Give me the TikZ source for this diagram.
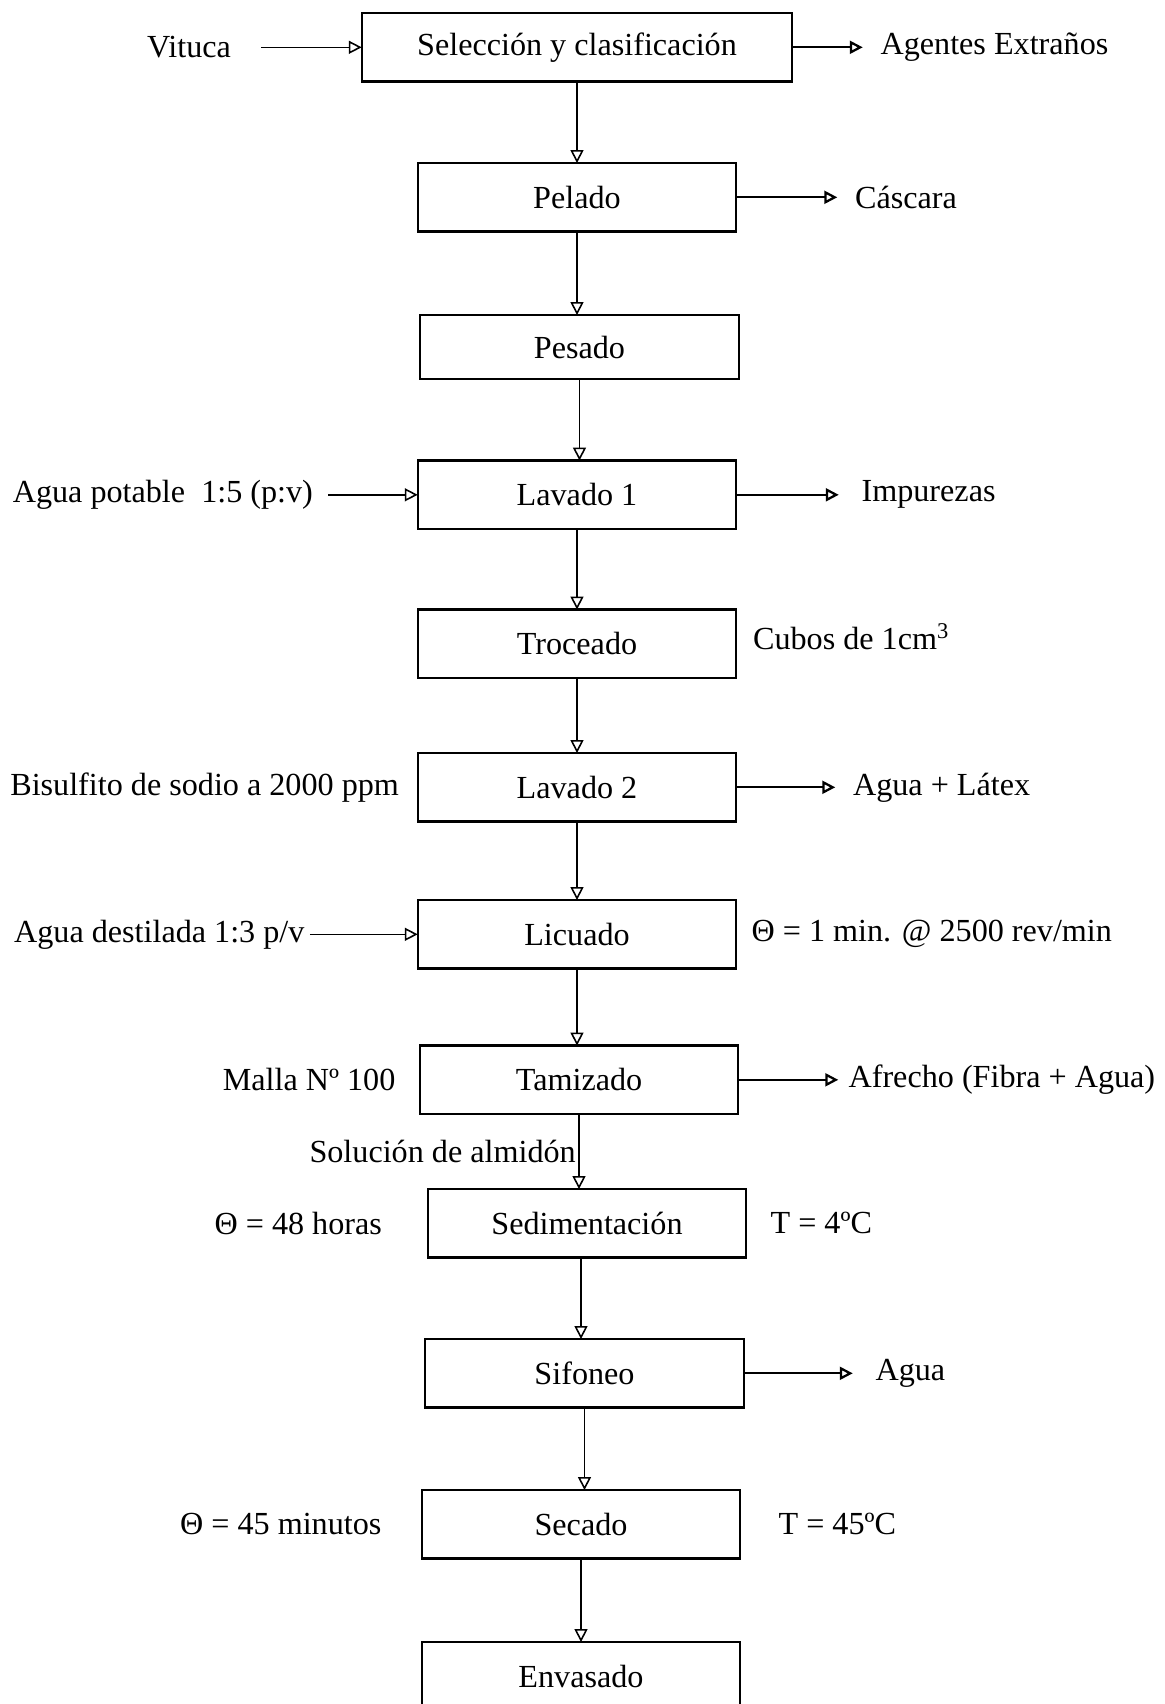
\documentclass[tikz,border=0pt]{standalone}
\usepackage{fontspec}
\setmainfont{Liberation Serif}
\usetikzlibrary{positioning,arrows.meta}

\begin{document}
\begin{tikzpicture}[node distance=1.6cm,
  every node/.style={font=\fontsize{18.3}{22}\selectfont},
  proc/.style={draw, line width=1.4pt, minimum width=6.37cm, minimum height=1.37cm, inner sep=0pt, outer sep=0pt},
  lbl/.style={inner sep=0.1cm},
  flow/.style={-{Triangle[open,length=0.26cm,width=0.26cm]}, line width=0.9pt},
  salida/.style={flow, line width=1.3pt}]
  \useasboundingbox (0,0) rectangle (23.3,-34.08);
  % etapas del proceso
  \node[proc, minimum width=8.61cm] (sel) at (11.54,-0.946) {Selección y clasificación};
  \node[proc, below=1.63cm of sel] (pel) {Pelado};
  \node[proc, below=1.67cm of pel, xshift=0.05cm, minimum height=1.28cm] (pes) {Pesado};
  \node[proc, below=1.63cm of pes, xshift=-0.05cm] (lav1) {Lavado 1};
  \node[proc, below=1.61cm of lav1] (tro) {Troceado};
  \node[proc, below=1.50cm of tro] (lav2) {Lavado 2};
  \node[proc, below=1.57cm of lav2] (lic) {Licuado};
  \node[proc, below=1.54cm of lic, xshift=0.04cm] (tam) {Tamizado};
  \node[proc, below=1.50cm of tam, xshift=0.16cm] (sed) {Sedimentación};
  \node[proc, below=1.63cm of sed, xshift=-0.05cm] (sif) {Sifoneo};
  \node[proc, below=1.65cm of sif, xshift=-0.07cm] (sec) {Secado};
  \node[proc, below=1.67cm of sec] (env) {Envasado};
  % entradas y condiciones a la izquierda
  \node[lbl, left=2.51cm of sel] (vit) {Vituca};
  \node[lbl, left=1.99cm of lav1] (agpot) {Agua potable\ \ 1:5 (p:v)};
  \node[lbl, left=0.27cm of lav2] (bis) {Bisulfito de sodio a 2000 ppm};
  \node[lbl, left=2.16cm of lic] (agdes) {Agua destilada 1:3 p/v};
  \node[lbl, left=0.38cm of tam] (malla) {Malla Nº 100};
  \node[lbl, left=0.81cm of sed] (tsed) {Θ = 48 horas};
  \node[lbl, left=0.70cm of sec] (tsec) {Θ = 45 minutos};
  % salidas y condiciones a la derecha
  \node[lbl, right=1.66cm of sel] (agext) {Agentes Extraños};
  \node[lbl, right=2.27cm of pel] (casc) {Cáscara};
  \node[lbl, right=2.40cm of lav1] (imp) {Impurezas};
  \node[lbl, right=0.23cm of tro, yshift=0.15cm] (cubos) {Cubos de 1cm\textsuperscript{3}};
  \node[lbl, right=2.23cm of lav2] (latex) {Agua + Látex};
  \node[lbl, right=0.20cm of lic] (rev) {Θ = 1 min. @ 2500 rev/min};
  \node[lbl, right=2.10cm of tam] (afr) {Afrecho (Fibra + Agua)};
  \node[lbl, right=0.38cm of sed] (tempsed) {T = 4ºC};
  \node[lbl, right=2.53cm of sif] (agua) {Agua};
  \node[lbl, right=0.66cm of sec] (tempsec) {T = 45ºC};
  % flujo principal
  \draw[flow] (sel.south) -- (sel.south |- pel.north);
  \draw[flow] (pel.south) -- (pel.south |- pes.north);
  \draw[flow] (pes.south) -- (pes.south |- lav1.north);
  \draw[flow] (lav1.south) -- (lav1.south |- tro.north);
  \draw[flow] (tro.south) -- (tro.south |- lav2.north);
  \draw[flow] (lav2.south) -- (lav2.south |- lic.north);
  \draw[flow] (lic.south) -- (lic.south |- tam.north);
  \draw[flow] (tam.south) -- node[left, inner sep=0.05cm] (sol) {Solución de almidón} (tam.south |- sed.north);
  \draw[flow] (sed.south) ++(-0.12,0) coordinate (sedout) -- (sedout |- sif.north);
  \draw[flow] (sif.south) -- (sif.south |- sec.north);
  \draw[flow] (sec.south) -- (sec.south |- env.north);
  % entradas
  \draw[flow, shorten <=0.5cm] (vit) -- (sel);
  \draw[flow, shorten <=0.2cm] (agpot) -- (lav1);
  \draw[flow] (agdes) -- (lic);
  % salidas
  \draw[salida, shorten >=0.25cm] (sel) -- (agext);
  \draw[salida, shorten >=0.25cm] (pel) -- (casc);
  \draw[salida, shorten >=0.35cm] (lav1) -- (imp);
  \draw[salida, shorten >=0.25cm] (lav2) -- (latex);
  \draw[salida, shorten >=0.1cm] (tam) -- (afr);
  \draw[salida, shorten >=0.35cm] (sif) -- (agua);
\end{tikzpicture}
\end{document}
